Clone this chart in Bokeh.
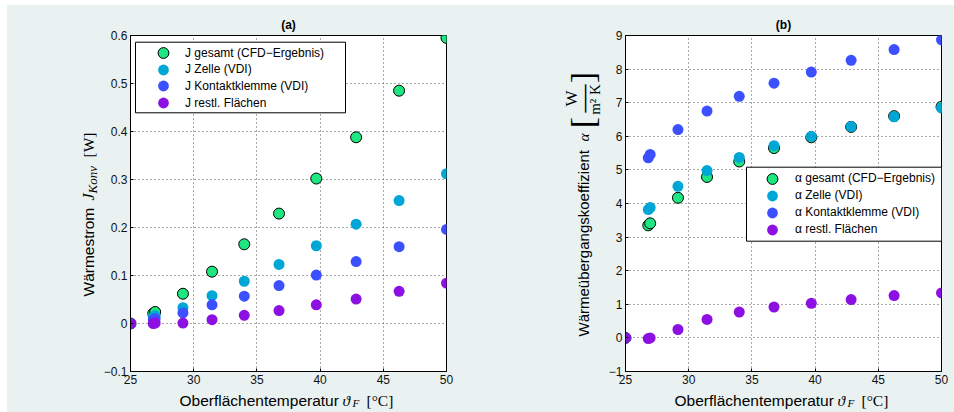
import math
from bokeh.plotting import figure
from bokeh.models import (Range1d, FixedTicker, Label, Legend, LegendItem, Row,
                          GridBox, BoxAnnotation)
from bokeh.embed import file_html
from bokeh.resources import INLINE

# ---------------- data ----------------
temps = [25.0, 26.8, 26.95, 29.15, 31.45, 34.0, 36.75, 39.7, 42.85, 46.25, 50.0]

j_gesamt = [0.0, 0.021, 0.024, 0.062, 0.108, 0.165, 0.229, 0.302, 0.388, 0.485, 0.595]
j_zelle = [0.0, 0.013, 0.016, 0.033, 0.058, 0.088, 0.123, 0.162, 0.207, 0.256, 0.312]
j_klemme = [0.0, 0.008, 0.010, 0.022, 0.039, 0.057, 0.079, 0.101, 0.129, 0.160, 0.196]
j_rest = [0.0, 0.0, 0.001, 0.001, 0.008, 0.017, 0.027, 0.039, 0.051, 0.067, 0.084]

a_gesamt = [0.0, 3.35, 3.41, 4.17, 4.79, 5.25, 5.65, 5.97, 6.28, 6.60, 6.88]
a_zelle = [0.0, 3.82, 3.88, 4.51, 4.98, 5.37, 5.72, 6.00, 6.29, 6.58, 6.84]
a_klemme = [0.0, 5.36, 5.46, 6.20, 6.75, 7.19, 7.58, 7.91, 8.26, 8.58, 8.87]
a_rest = [0.0, -0.02, 0.0, 0.25, 0.55, 0.77, 0.92, 1.03, 1.14, 1.26, 1.34]

labels_a = ["J gesamt (CFD\u2212Ergebnis)", "J Zelle (VDI)", "J Kontaktklemme (VDI)", "J restl. Fl\u00e4chen"]
labels_b = ["\u03b1 gesamt (CFD\u2212Ergebnis)", "\u03b1 Zelle (VDI)", "\u03b1 Kontaktklemme (VDI)", "\u03b1 restl. Fl\u00e4chen"]

x_ticks = [25, 30, 35, 40, 45, 50]
x_tick_labels = ["25", "30", "35", "40", "45", "50"]
ya_ticks = [-0.1, 0.0, 0.1, 0.2, 0.3, 0.4, 0.5, 0.6]
ya_tick_labels = ["\u22120.1", "0", "0.1", "0.2", "0.3", "0.4", "0.5", "0.6"]
yb_ticks = [-1, 0, 1, 2, 3, 4, 5, 6, 7, 8, 9]
yb_tick_labels = ["\u22121", "0", "1", "2", "3", "4", "5", "6", "7", "8", "9"]

# ---------------- style ----------------
BG = "#E9F1F1"
C_GREEN = "#1EE680"
C_CYAN = "#00A6D6"
C_BLUE = "#3C50FF"
C_PURPLE = "#8C10E2"
SANS = "Liberation Sans"
SERIF = "Liberation Serif"
HALF_PI = math.pi / 2


def make_fig(title, yr, yticks, ylabels, left_border, right_border):
    p = figure(frame_width=316, frame_height=336,
               x_range=Range1d(25, 50), y_range=Range1d(*yr),
               output_backend="svg", toolbar_location=None,
               min_border_left=left_border, min_border_right=right_border,
               min_border_top=30, min_border_bottom=41,
               background_fill_color="white", border_fill_color=BG,
               outline_line_color="black", outline_line_width=1,
               title=title)
    p.title.align = "center"
    p.title.text_font = SANS
    p.title.text_font_size = "12px"
    p.title.text_font_style = "bold"
    p.title.text_color = "black"
    p.title.standoff = 8

    p.xaxis.ticker = FixedTicker(ticks=x_ticks)
    p.xaxis.major_label_overrides = dict(zip(x_ticks, x_tick_labels))
    p.yaxis.ticker = FixedTicker(ticks=yticks)
    p.yaxis.major_label_overrides = dict(zip(yticks, ylabels))
    for ax in (p.xaxis, p.yaxis):
        ax.major_tick_in = 3
        ax.major_tick_out = 0
        ax.minor_tick_line_color = None
        ax.axis_line_color = "black"
        ax.major_tick_line_color = "black"
        ax.major_label_text_font = SANS
        ax.major_label_text_font_size = "12px"
        ax.major_label_text_color = "#111111"
        ax.major_label_standoff = 3
    for g in (p.xgrid, p.ygrid):
        g.grid_line_color = "#555555"
        g.grid_line_dash = "1 3"
        g.grid_line_width = 1
    return p


def add_series(p, ys):
    r1 = p.scatter(temps, ys[0], size=11, fill_color=C_GREEN, line_color="black", line_width=1)
    r2 = p.scatter(temps, ys[1], size=11, fill_color=C_CYAN, line_color=None)
    r3 = p.scatter(temps, ys[2], size=11, fill_color=C_BLUE, line_color=None)
    r4 = p.scatter(temps, ys[3], size=11, fill_color=C_PURPLE, line_color=None)
    return [r1, r2, r3, r4]


def add_legend(p, renderers, labels, box, x, first_bottom, pitch, gw):
    left, right, bottom, top = box
    p.add_layout(BoxAnnotation(left=left, right=right, bottom=bottom, top=top,
                               left_units="screen", right_units="screen",
                               bottom_units="screen", top_units="screen",
                               fill_color="white", fill_alpha=1.0,
                               line_color="black", line_alpha=1.0, line_width=1))
    for i, (r, lab) in enumerate(zip(renderers, labels)):
        p.add_layout(Legend(items=[LegendItem(label=lab, renderers=[r])],
                            location=(x, first_bottom - i * pitch), margin=0, padding=0,
                            glyph_width=gw, glyph_height=27, label_height=27,
                            label_standoff=0, label_text_font=SANS,
                            label_text_font_size="12px", label_text_color="black",
                            border_line_color=None, background_fill_alpha=0.0))


# ---------------- plot (a) ----------------
pa = make_fig("(a)", (-0.1, 0.6), ya_ticks, ya_tick_labels, 123, 31)
rend_a = add_series(pa, [j_gesamt, j_zelle, j_klemme, j_rest])
add_legend(pa, rend_a, labels_a, (5, 215, 258.7, 329.3), 11, 305.0, 16.7, 44)

# ---------------- plot (b) ----------------
pb = make_fig("(b)", (-1, 9), yb_ticks, yb_tick_labels, 148, 13)
rend_b = add_series(pb, [a_gesamt, a_zelle, a_klemme, a_rest])
add_legend(pb, rend_b, labels_b, (121, 316, 130.3, 204.3), 124, 179.2, 17.0, 46)

plots = Row(children=[pa, pb], margin=(5, 0, 0, 7), spacing=0,
            styles={"background-color": BG})

# ---------------- overlay for the axis titles (page pixel coordinates) ----------------
ov = figure(width=954, height=412, x_range=Range1d(0, 954), y_range=Range1d(412, 0),
            x_axis_type=None, y_axis_type=None, min_border=0,
            toolbar_location=None, output_backend="svg",
            background_fill_alpha=0.0, border_fill_alpha=0.0, outline_line_color=None)


def txt(text, x, y, size, font=SANS, style="normal", angle=0.0,
        align="left", baseline="alphabetic"):
    ov.add_layout(Label(x=x, y=y, text=text, text_font=font,
                        text_font_size=f"{size}px", text_font_style=style,
                        angle=angle, text_align=align, text_baseline=baseline,
                        text_color="black"))


# x-axis titles
for x0 in (130, 625):
    txt("Oberfl\u00e4chentemperatur", x0 + 49, 399.5, 15.5)
    txt("\u03d1", x0 + 212, 399.5, 15.5, font=SERIF, style="italic")
    txt("F", x0 + 222, 402.5, 11, font=SERIF, style="italic")
    txt("[\u00b0C]", x0 + 236, 399.5, 15.5, font=SERIF)

# y-axis title (a)
txt("W\u00e4rmestrom", 88, 296, 15.5, angle=HALF_PI, baseline="middle")
txt("J", 88, 200, 16, font=SERIF, style="italic", angle=HALF_PI, baseline="middle")
txt("Konv", 92, 193, 13, font=SERIF, style="italic", angle=HALF_PI, baseline="middle")
txt("[W]", 88, 157, 15.5, font=SERIF, angle=HALF_PI, baseline="middle")

# y-axis title (b)
txt("W\u00e4rme\u00fcbergangskoeffizient", 583, 336, 15, angle=HALF_PI, baseline="middle")
txt("\u03b1", 583, 141, 15.5, font=SERIF, style="italic", angle=HALF_PI, baseline="middle")
txt("[", 582, 122, 34, font=SERIF, angle=HALF_PI, align="center", baseline="middle")
txt("W", 571, 98, 17, font=SERIF, angle=HALF_PI, align="center", baseline="middle")
txt("\u2014", 582, 98, 28, font=SERIF, angle=HALF_PI, align="center", baseline="middle")
txt("m\u00b2 K", 594, 99, 15, font=SERIF, angle=HALF_PI, align="center", baseline="middle")
txt("]", 582, 77, 34, font=SERIF, angle=HALF_PI, align="center", baseline="middle")

layout = GridBox(children=[(plots, 0, 0), (ov, 0, 0)])

open("out.html", "w").write(file_html(layout, INLINE))
